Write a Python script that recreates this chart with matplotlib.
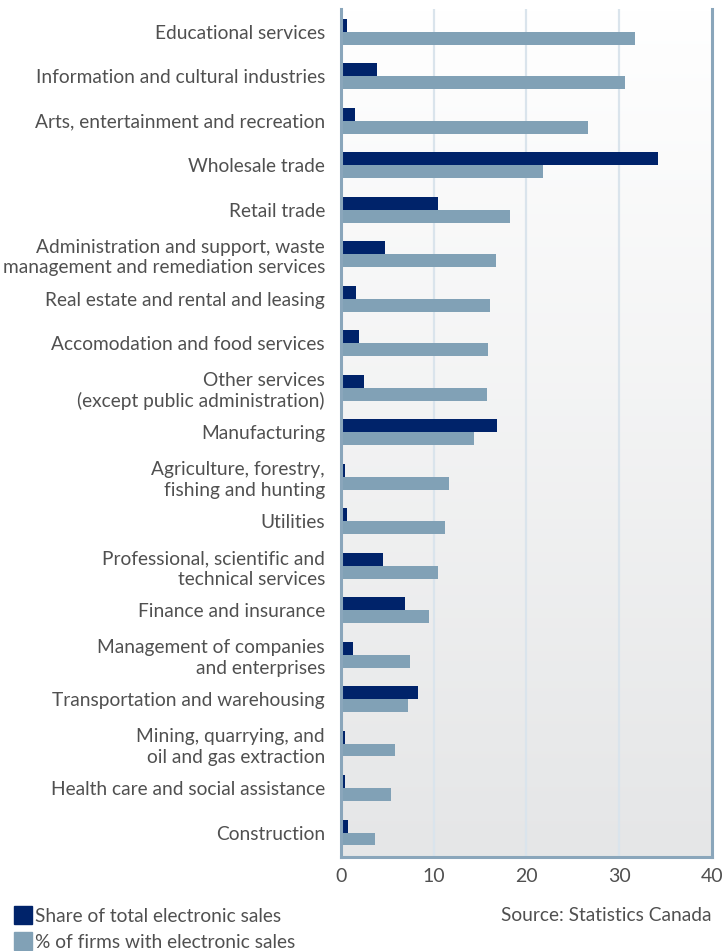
import matplotlib.pyplot as plt
import numpy as np
from matplotlib.patches import Patch

# Industries, top to bottom as in the chart
industries = [
    'Educational services',
    'Information and cultural industries',
    'Arts, entertainment and recreation',
    'Wholesale trade',
    'Retail trade',
    'Administration and support, waste\nmanagement and remediation services',
    'Real estate and rental and leasing',
    'Accomodation and food services',
    'Other services\n(except public administration)',
    'Manufacturing',
    'Agriculture, forestry,\nfishing and hunting',
    'Utilities',
    'Professional, scientific and\ntechnical services',
    'Finance and insurance',
    'Management of companies\nand enterprises',
    'Transportation and warehousing',
    'Mining, quarrying, and\noil and gas extraction',
    'Health care and social assistance',
    'Construction',
]

share_sales = [0.7, 3.9, 1.5, 34.2, 10.5, 4.8, 1.65, 1.9, 2.5, 16.8,
               0.45, 0.7, 4.5, 6.95, 1.3, 8.35, 0.45, 0.45, 0.8]
pct_firms = [31.7, 30.6, 26.6, 21.8, 18.2, 16.7, 16.1, 15.9, 15.8, 14.4,
             11.7, 11.2, 10.5, 9.55, 7.4, 7.2, 5.85, 5.4, 3.7]

dark = '#00236a'
light = '#81a1b6'
txt = '#505050'
frame = '#8aa6bb'

plt.rcParams['font.family'] = ['Lato', 'DejaVu Sans']

fig = plt.figure(figsize=(7.27, 9.51), dpi=100)
ax = fig.add_axes([0.469, 0.0988, 0.51, 0.8917])

n = len(industries)
y = np.arange(n)[::-1]
h = 0.29

# gradient background
grad = np.linspace(1.0, 0.0, 256).reshape(-1, 1)
c_top = np.array([1.0, 1.0, 1.0])
c_bot = np.array([0.898, 0.902, 0.906])
img = c_bot + (c_top - c_bot) * grad[:, :, None]
ax.imshow(img, extent=[0, 1, 0, 1], transform=ax.transAxes, aspect='auto', zorder=0)

ax.barh(y + h / 2, share_sales, height=h, color=dark, zorder=3,
        label='Share of total electronic sales')
ax.barh(y - h / 2, pct_firms, height=h, color=light, zorder=3,
        label='% of firms with electronic sales')

ax.set_xlim(0, 40)
ax.set_ylim(-0.55, n - 1 + 0.51)
ax.set_xticks([0, 10, 20, 30, 40])
ax.set_yticks(y)
ax.set_yticklabels(industries, fontsize=13.8, color=txt)
ax.tick_params(axis='both', length=0)
ax.tick_params(axis='y', pad=11.5)
ax.tick_params(axis='x', labelsize=14, labelcolor=txt, pad=8)
for lab in ax.get_yticklabels():
    lab.set_multialignment('right')
    lab.set_linespacing(1.25)

for xv in [10, 20, 30]:
    ax.axvline(xv, color='#dae4ec', lw=1.6, zorder=1)

for s in ['left', 'right', 'bottom']:
    ax.spines[s].set_color(frame)
    ax.spines[s].set_linewidth(2.2)
    ax.spines[s].set_zorder(4)
ax.spines['top'].set_visible(False)

fig.text(0.979, 0.037, 'Source: Statistics Canada', ha='right', va='center',
         fontsize=13.8, color=txt)

handles = [Patch(color=dark), Patch(color=light)]
fig.legend(handles, ['Share of total electronic sales', '% of firms with electronic sales'],
           loc='lower left', bbox_to_anchor=(0.003, -0.012), frameon=False,
           fontsize=13.8, labelcolor=txt, handlelength=0.95, handleheight=1.05,
           handletextpad=0.15, labelspacing=0.4, borderaxespad=0.2)

fig.savefig('out.png', dpi=100)
